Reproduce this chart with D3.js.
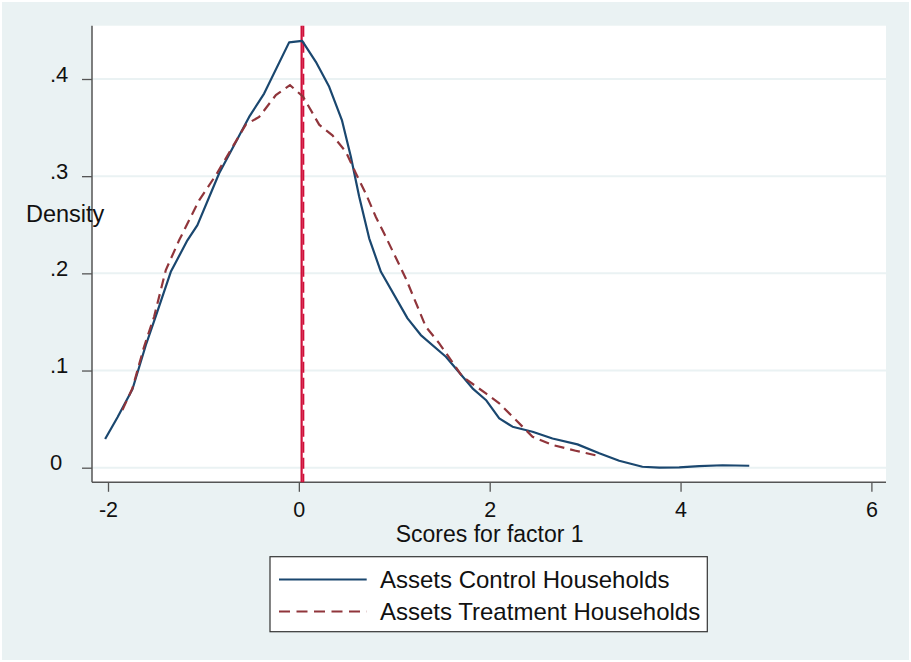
<!DOCTYPE html>
<html>
<head>
<meta charset="utf-8">
<script src="https://cdn.jsdelivr.net/npm/d3@7/dist/d3.min.js"></script>
<style>
  html, body { margin: 0; padding: 0; background: #ffffff; }
  svg { display: block; font-family: "Liberation Sans", Arial, Helvetica, sans-serif; }
</style>
</head>
<body>
<svg id="chart" width="911" height="662"></svg>
<script>
// Kernel density estimates of factor-1 asset scores
const controlX = [-2.03, -1.90, -1.744, -1.604, -1.499, -1.342, -1.168, -1.063, -0.835, -0.521, -0.364, -0.102, 0.035, 0.178, 0.318, 0.451, 0.545, 0.632, 0.737, 0.86, 1.139, 1.278, 1.541, 1.82, 1.96, 2.10, 2.239, 2.449, 2.658, 2.92, 3.148, 3.357, 3.60, 3.777, 3.986, 4.196, 4.44, 4.72];
const controlY = [0.0295, 0.052, 0.0807, 0.126, 0.156, 0.2016, 0.234, 0.2497, 0.303, 0.361, 0.385, 0.4377, 0.4393, 0.4177, 0.392, 0.3577, 0.320, 0.279, 0.236, 0.2016, 0.1537, 0.1365, 0.1142, 0.0817, 0.0697, 0.0508, 0.0422, 0.037, 0.030, 0.024, 0.0148, 0.0072, 0.001, 0.0, 0.0004, 0.0017, 0.0025, 0.002];

const treatX = [-1.849, -1.744, -1.622, -1.517, -1.394, -1.255, -1.045, -0.87, -0.556, -0.416, -0.241, -0.093, 0.045, 0.213, 0.352, 0.493, 0.597, 0.702, 0.807, 0.894, 1.121, 1.331, 1.471, 1.715, 1.96, 2.10, 2.239, 2.449, 2.658, 2.9, 3.166];
const treatY = [0.0594, 0.0817, 0.1245, 0.1553, 0.2034, 0.234, 0.2752, 0.301, 0.3531, 0.361, 0.3834, 0.3937, 0.3817, 0.353, 0.342, 0.325, 0.303, 0.282, 0.258, 0.241, 0.1948, 0.145, 0.128, 0.0936, 0.0765, 0.0663, 0.0525, 0.0319, 0.0234, 0.0175, 0.0115];

// Group means marked with vertical reference lines
const controlMean = 0.029;
const treatMean = 0.048;

const xTicks = [-2, 0, 2, 4, 6];
const yTicks = [0, 0.1, 0.2, 0.3, 0.4];
const yTickLabels = ["0", ".1", ".2", ".3", ".4"];
const seriesNames = ["Assets Control Households", "Assets Treatment Households"];

const colors = { control: "#1a476f", treat: "#90353b", vline: "#d0103a", bg: "#eaf2f3", axis: "#555555" };

const svg = d3.select("#chart");
const W = 911, H = 662;
const plot = { left: 92, right: 886, top: 25.7, bottom: 482.3 };

// outer graph region
svg.append("rect").attr("x", 2).attr("y", 2).attr("width", W - 4).attr("height", H - 4).attr("fill", colors.bg);
// plot region
svg.append("rect").attr("x", plot.left).attr("y", plot.top)
  .attr("width", plot.right - plot.left).attr("height", plot.bottom - plot.top).attr("fill", "#ffffff");

const x = d3.scaleLinear().domain([-2, 6]).range([108, 871.4]);
const y = d3.scaleLinear().domain([0, 0.4]).range([467.7, 79]);

// horizontal grid lines
svg.append("g").selectAll("line").data(yTicks).join("line")
  .attr("x1", plot.left).attr("x2", plot.right)
  .attr("y1", d => y(d)).attr("y2", d => y(d))
  .attr("stroke", colors.bg).attr("stroke-width", 2);

// y axis
const yAxis = svg.append("g").attr("transform", `translate(${plot.left},0)`)
  .call(d3.axisLeft(y).tickValues(yTicks).tickSize(10).tickPadding(0)
    .tickFormat((d, i) => yTickLabels[i]));
yAxis.select(".domain").remove();
yAxis.selectAll(".tick line").attr("stroke", colors.axis).attr("stroke-width", 1.3);
yAxis.selectAll(".tick text")
  .attr("x", 50 - plot.left).attr("dy", 0).attr("y", 2)
  .attr("text-anchor", "start")
  .attr("font-size", 22).attr("fill", "#111");
svg.append("line").attr("x1", plot.left).attr("x2", plot.left)
  .attr("y1", plot.top).attr("y2", plot.bottom)
  .attr("stroke", colors.axis).attr("stroke-width", 1.5);

// x axis
const xAxis = svg.append("g").attr("transform", `translate(0,${plot.bottom})`)
  .call(d3.axisBottom(x).tickValues(xTicks).tickSize(9.5).tickPadding(0).tickFormat(d3.format("d")));
xAxis.select(".domain").remove();
xAxis.selectAll(".tick line").attr("stroke", colors.axis).attr("stroke-width", 1.3);
xAxis.selectAll(".tick text").attr("dy", 0).attr("y", 35)
  .attr("font-size", 21.5).attr("fill", "#111")
  .text(d => d < 0 ? "-" + Math.abs(d) : d);
svg.append("line").attr("x1", plot.left).attr("x2", plot.right)
  .attr("y1", plot.bottom).attr("y2", plot.bottom)
  .attr("stroke", colors.axis).attr("stroke-width", 1.5);

// axis titles
svg.append("text").attr("x", 26).attr("y", 222).attr("font-size", 23.5).attr("fill", "#111").text("Density");
svg.append("text").attr("x", x(2)).attr("y", 541.5).attr("text-anchor", "middle")
  .attr("font-size", 23).attr("fill", "#111").text("Scores for factor 1");

// mean reference lines
svg.append("line").attr("x1", x(controlMean)).attr("x2", x(controlMean))
  .attr("y1", plot.top).attr("y2", plot.bottom)
  .attr("stroke", colors.vline).attr("stroke-width", 2.2);
svg.append("line").attr("x1", x(treatMean)).attr("x2", x(treatMean))
  .attr("y1", plot.top).attr("y2", plot.bottom)
  .attr("stroke", colors.vline).attr("stroke-width", 1.8).attr("stroke-dasharray", "11,5");

// density curves
const line = d3.line().x(d => x(d[0])).y(d => y(d[1]));
svg.append("path").datum(controlX.map((v, i) => [v, controlY[i]]))
  .attr("d", line).attr("fill", "none")
  .attr("stroke", colors.control).attr("stroke-width", 2.2).attr("stroke-linejoin", "round");
svg.append("path").datum(treatX.map((v, i) => [v, treatY[i]]))
  .attr("d", line).attr("fill", "none")
  .attr("stroke", colors.treat).attr("stroke-width", 2.2).attr("stroke-dasharray", "10,6");

// legend
const lg = svg.append("g");
lg.append("rect").attr("x", 270).attr("y", 556.7).attr("width", 437.3).attr("height", 75)
  .attr("fill", "#ffffff").attr("stroke", "#333").attr("stroke-width", 1.2);
const rows = [
  { name: seriesNames[0], color: colors.control, dash: null, cy: 579.5 },
  { name: seriesNames[1], color: colors.treat, dash: "11,6.5", cy: 611.5 }
];
rows.forEach(r => {
  const ln = lg.append("line").attr("x1", 279).attr("x2", 366.7).attr("y1", r.cy).attr("y2", r.cy)
    .attr("stroke", r.color).attr("stroke-width", 2.2);
  if (r.dash) ln.attr("stroke-dasharray", r.dash);
  lg.append("text").attr("x", 380).attr("y", r.cy + 8.5).attr("font-size", 24)
    .attr("fill", "#111").text(r.name);
});
</script>
</body>
</html>
